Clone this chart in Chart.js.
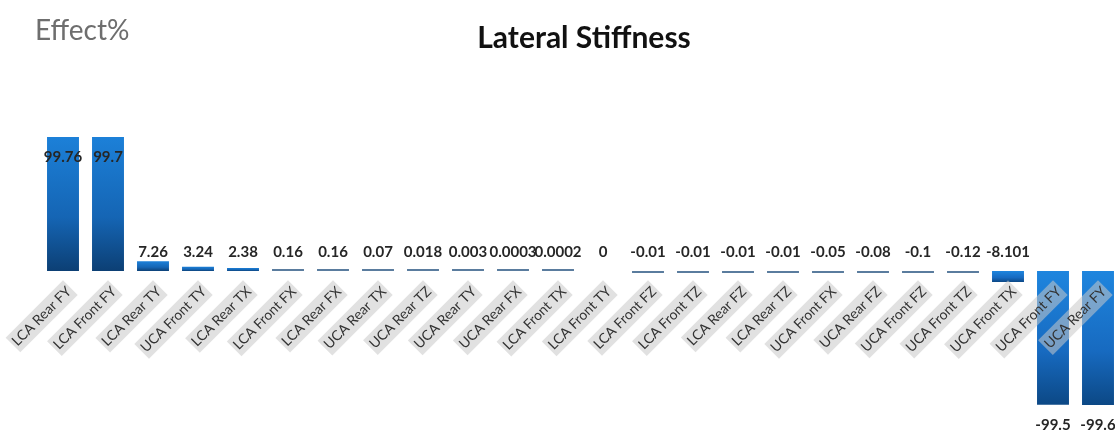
<!DOCTYPE html>
<html>
<head>
<meta charset="utf-8">
<script src="https://cdn.jsdelivr.net/npm/chart.js@4.4.1/dist/chart.umd.min.js"></script>
<style>
  html, body { margin: 0; padding: 0; background: #ffffff; overflow: hidden; width: 1115px; height: 433px; }
  #wrap { position: absolute; left: 0; top: 0; width: 1122px; height: 433px; }
</style>
</head>
<body>
<div id="wrap"><canvas id="chart" width="1122" height="433"></canvas></div>
<script>
// Load cases, in plotted order
const categories = [
  'LCA Rear FY', 'LCA Front FY', 'LCA Rear TY', 'UCA Front TY', 'LCA Rear TX',
  'LCA Front FX', 'LCA Rear FX', 'UCA Rear TX', 'UCA Rear TZ', 'UCA Rear TY',
  'UCA Rear FX', 'LCA Front TX', 'LCA Front TY', 'LCA Front FZ', 'LCA Front TZ',
  'LCA Rear FZ', 'LCA Rear TZ', 'UCA Front FX', 'UCA Rear FZ', 'UCA Front FZ',
  'UCA Front TZ', 'UCA Front TX', 'UCA Front FY', 'UCA Rear FY'
];

// Effect on lateral stiffness, percent
const effectValues = [
  99.76, 99.7, 7.26, 3.24, 2.38,
  0.16, 0.16, 0.07, 0.018, 0.003,
  0.0003, 0.0002, 0, -0.01, -0.01,
  -0.01, -0.01, -0.05, -0.08, -0.1,
  -0.12, -8.101, -99.5, -99.6
];

// Text printed on each bar
const valueLabels = effectValues.map(v => String(v));

const chartTitle = 'Lateral Stiffness';
const axisTitle = 'Effect%';

const FONT = 'Lato, "Open Sans", sans-serif';

// Vertical gradient per bar: lighter at the top, darker at the bottom.
// Near-zero values show as a thin line; an exact zero shows nothing.
function barFill(context) {
  const chart = context.chart;
  const yScale = chart.scales.y;
  if (!yScale || !chart.chartArea) return '#1668b8';
  const v = context.raw;
  if (v === 0) return 'rgba(0,0,0,0)';
  const p0 = yScale.getPixelForValue(0);
  const p1 = yScale.getPixelForValue(v);
  if (Math.abs(p1 - p0) < 3) return '#5a7c9e';
  const top = Math.min(p0, p1), bottom = Math.max(p0, p1);
  const g = chart.ctx.createLinearGradient(0, top, 0, bottom);
  if (v > 0) {
    g.addColorStop(0, '#1c80d8');
    g.addColorStop(0.6, '#1565b4');
    g.addColorStop(1, '#0c3f74');
  } else {
    g.addColorStop(0, '#1e85de');
    g.addColorStop(0.6, '#176ac0');
    g.addColorStop(1, '#0c4885');
  }
  return g;
}

// Headings drawn on the canvas
const headingPlugin = {
  id: 'headings',
  afterDraw(chart) {
    const ctx = chart.ctx;
    ctx.save();
    ctx.textBaseline = 'middle';
    ctx.fillStyle = '#6e6e6e';
    ctx.textAlign = 'left';
    ctx.font = '28px ' + FONT;
    ctx.fillText(axisTitle, 35, 31);
    ctx.fillStyle = '#111111';
    ctx.textAlign = 'center';
    ctx.font = 'bold 30px ' + FONT;
    ctx.fillText(chartTitle, 584, 38);
    ctx.restore();
  }
};

// Value labels: tall bars get the label at their end, short ones above the zero line
const valueLabelPlugin = {
  id: 'valueLabels',
  afterDatasetsDraw(chart) {
    const ctx = chart.ctx;
    const meta = chart.getDatasetMeta(0);
    const zeroY = chart.scales.y.getPixelForValue(0);
    ctx.save();
    ctx.font = 'bold 15px ' + FONT;
    ctx.fillStyle = '#262626';
    ctx.textAlign = 'center';
    meta.data.forEach((bar, i) => {
      const len = Math.abs(bar.base - bar.y);
      if (len > 40) {
        ctx.textBaseline = 'middle';
        ctx.fillText(valueLabels[i], bar.x, bar.y + 20);
      } else {
        ctx.textBaseline = 'bottom';
        ctx.fillText(valueLabels[i], bar.x, zeroY - 11);
      }
    });
    ctx.restore();
  }
};

new Chart(document.getElementById('chart'), {
  type: 'bar',
  data: {
    labels: categories,
    datasets: [{
      data: effectValues,
      backgroundColor: barFill,
      borderWidth: 0,
      minBarLength: 2,
      barPercentage: 0.71,
      categoryPercentage: 1.0
    }]
  },
  options: {
    responsive: false,
    animation: false,
    devicePixelRatio: 1,
    layout: { padding: { left: 40.5, right: 1.5, top: 137, bottom: 28 } },
    plugins: {
      legend: { display: false },
      title: { display: false },
      tooltip: { enabled: false }
    },
    scales: {
      x: {
        position: { y: 0 },
        grid: { display: false, drawTicks: false },
        border: { display: false },
        afterFit(scale) {
          scale.paddingLeft = 0;
          scale.paddingRight = 0;
        },
        ticks: {
          z: 1,
          autoSkip: false,
          minRotation: 45,
          maxRotation: 45,
          padding: 12,
          labelOffset: 0,
          color: '#333333',
          font: { family: FONT, size: 14 },
          showLabelBackdrop: true,
          backdropColor: 'rgba(200,200,200,0.55)',
          backdropPadding: 2
        }
      },
      y: {
        display: false,
        min: -99.6,
        max: 99.76
      }
    }
  },
  plugins: [valueLabelPlugin, headingPlugin]
});
</script>
</body>
</html>
